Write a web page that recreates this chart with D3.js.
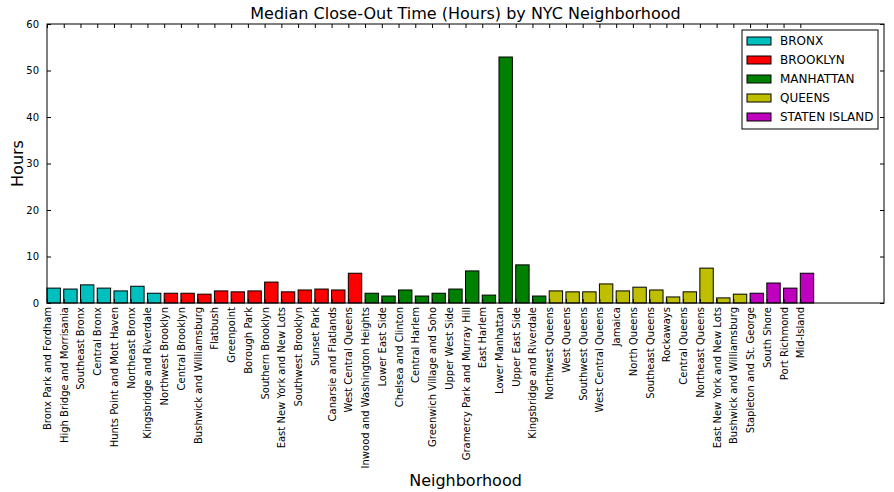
<!DOCTYPE html>
<html><head><meta charset="utf-8">
<script src="https://cdn.jsdelivr.net/npm/d3@7"></script>
<style>body{margin:0;background:#fff}text{font-family:"DejaVu Sans",sans-serif}</style>
</head><body><svg id="c" width="894" height="492"></svg>
<script>
const neighborhoods = ["Bronx Park and Fordham","High Bridge and Morrisania","Southeast Bronx","Central Bronx","Hunts Point and Mott Haven","Northeast Bronx","Kingsbridge and Riverdale",
"Northwest Brooklyn","Central Brooklyn","Bushwick and Williamsburg","Flatbush","Greenpoint","Borough Park","Southern Brooklyn","East New York and New Lots","Southwest Brooklyn","Sunset Park","Canarsie and Flatlands","West Central Queens",
"Inwood and Washington Heights","Lower East Side","Chelsea and Clinton","Central Harlem","Greenwich Village and Soho","Upper West Side","Gramercy Park and Murray Hill","East Harlem","Lower Manhattan","Upper East Side","Kingsbridge and Riverdale",
"Northwest Queens","West Queens","Southwest Queens","West Central Queens","Jamaica","North Queens","Southeast Queens","Rockaways","Central Queens","Northeast Queens","East New York and New Lots","Bushwick and Williamsburg",
"Stapleton and St. George","South Shore","Port Richmond","Mid-Island"];
const boroughOf = ["BRONX","BRONX","BRONX","BRONX","BRONX","BRONX","BRONX",
"BROOKLYN","BROOKLYN","BROOKLYN","BROOKLYN","BROOKLYN","BROOKLYN","BROOKLYN","BROOKLYN","BROOKLYN","BROOKLYN","BROOKLYN","BROOKLYN",
"MANHATTAN","MANHATTAN","MANHATTAN","MANHATTAN","MANHATTAN","MANHATTAN","MANHATTAN","MANHATTAN","MANHATTAN","MANHATTAN","MANHATTAN",
"QUEENS","QUEENS","QUEENS","QUEENS","QUEENS","QUEENS","QUEENS","QUEENS","QUEENS","QUEENS","QUEENS","QUEENS",
"STATEN ISLAND","STATEN ISLAND","STATEN ISLAND","STATEN ISLAND"];
const hours = [3.2,3.0,3.9,3.2,2.6,3.6,2.1,
2.1,2.1,1.9,2.6,2.4,2.6,4.5,2.4,2.8,3.0,2.8,6.4,
2.1,1.5,2.8,1.5,2.1,3.0,6.9,1.7,52.9,8.2,1.5,
2.6,2.4,2.4,4.1,2.6,3.4,2.8,1.3,2.4,7.5,1.1,1.9,
2.1,4.3,3.2,6.4];
const boroughs = ["BRONX","BROOKLYN","MANHATTAN","QUEENS","STATEN ISLAND"];
const boroughColors = ["#00bfbf","#ff0000","#008000","#bfbf00","#bf00bf"];
const yTicks = [0,10,20,30,40,50,60];

const svg = d3.select("#c");
const L=47,R=884,T=24,B=303;
const x = d3.scaleLinear().domain([0,50]).range([L,R]);
const y = d3.scaleLinear().domain([0,60]).range([B,T]);
const color = d3.scaleOrdinal().domain(boroughs).range(boroughColors);
const idx = d3.range(neighborhoods.length);

// bars
svg.append("g").selectAll("rect").data(idx).join("rect")
  .attr("x", i=>x(i)).attr("width", x(0.8)-x(0))
  .attr("y", i=>y(hours[i])).attr("height", i=>y(0)-y(hours[i]))
  .attr("fill", i=>color(boroughOf[i])).attr("stroke","#000").attr("stroke-width",1);

// frame
svg.append("rect").attr("x",L).attr("y",T).attr("width",R-L).attr("height",B-T)
  .attr("fill","none").attr("stroke","#000").attr("stroke-width",1);

// y axis (ticks inward)
const yl = d3.axisLeft(y).tickValues(yTicks).tickSizeInner(-4).tickSizeOuter(0).tickPadding(8);
const ga = svg.append("g").attr("transform",`translate(${L},0)`).call(yl);
ga.select(".domain").remove();
ga.selectAll("text").attr("font-size",10).attr("font-family","DejaVu Sans");
const yr = d3.axisRight(y).tickValues(yTicks).tickSizeInner(-4).tickSizeOuter(0).tickFormat("");
const gr = svg.append("g").attr("transform",`translate(${R},0)`).call(yr);
gr.select(".domain").remove();

// x axis bottom labels and top ticks
const xb = d3.axisBottom(x).tickValues(idx).tickSizeInner(-4).tickSizeOuter(0).tickPadding(4).tickFormat(i=>neighborhoods[i]);
const gb = svg.append("g").attr("transform",`translate(0,${B})`).call(xb);
gb.select(".domain").remove();
gb.selectAll("text").attr("font-size",10).attr("font-family","DejaVu Sans")
  .attr("text-anchor","end").attr("dy","0.35em")
  .attr("transform","translate(0,4) rotate(-90)").attr("x",0).attr("y",0);
const xt = d3.axisTop(x).tickValues(idx).tickSizeInner(-4).tickSizeOuter(0).tickFormat("");
const gt = svg.append("g").attr("transform",`translate(0,${T})`).call(xt);
gt.select(".domain").remove();

// titles
svg.append("text").attr("x",(L+R)/2).attr("y",19).attr("text-anchor","middle").attr("font-size",16).text("Median Close-Out Time (Hours) by NYC Neighborhood");
svg.append("text").attr("x",(L+R)/2).attr("y",486).attr("text-anchor","middle").attr("font-size",16).text("Neighborhood");
svg.append("text").attr("transform",`translate(23,${(T+B)/2}) rotate(-90)`).attr("text-anchor","middle").attr("font-size",16).text("Hours");

// legend
const lg = svg.append("g").attr("transform","translate(742,30)");
lg.append("rect").attr("width",136).attr("height",99).attr("fill","#fff").attr("stroke","#000");
boroughs.forEach((b,k)=>{
  const yy = 11 + k*19;
  lg.append("rect").attr("x",5).attr("y",yy-4).attr("width",24).attr("height",8).attr("fill",boroughColors[k]).attr("stroke","#000");
  lg.append("text").attr("x",38).attr("y",yy).attr("dy","0.35em").attr("font-size",12).text(b);
});
</script></body></html>
